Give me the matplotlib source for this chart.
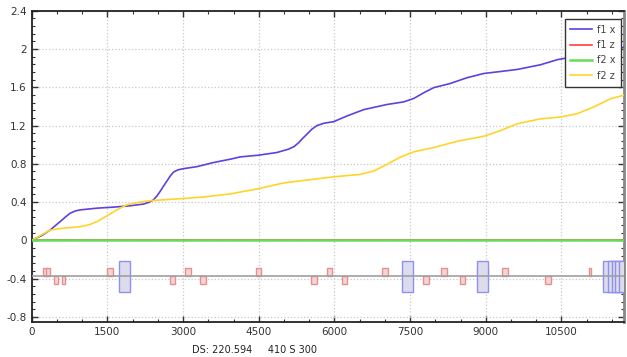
import matplotlib
matplotlib.use("Agg")
import matplotlib.pyplot as plt
from matplotlib.ticker import MultipleLocator, FixedLocator

# curves (x in samples, y value)
f1x_t = [0, 30, 200, 363, 460, 561, 660, 760, 860, 958, 1290, 1620, 1950, 2214,
         2330, 2413, 2480, 2546, 2610, 2678, 2745, 2810, 2900, 3008, 3274, 3603,
         3935, 4133, 4496, 4860, 5091, 5200, 5290, 5370, 5456, 5550, 5655, 5800,
         5984, 6250, 6580, 7044, 7373, 7572, 7780, 7969, 8300, 8631, 8962, 9300,
         9623, 10085, 10417, 10800, 11200, 11500, 11740]
f1x_v = [0.0, 0.01, 0.05, 0.107, 0.15, 0.195, 0.24, 0.283, 0.306, 0.318, 0.336,
         0.347, 0.361, 0.379, 0.398, 0.424, 0.462, 0.512, 0.565, 0.618, 0.672,
         0.713, 0.737, 0.749, 0.77, 0.813, 0.848, 0.872, 0.89, 0.918, 0.953, 0.98,
         1.02, 1.065, 1.11, 1.16, 1.2, 1.225, 1.24, 1.30, 1.366, 1.42, 1.447, 1.483,
         1.545, 1.596, 1.64, 1.70, 1.744, 1.765, 1.786, 1.835, 1.888, 1.925, 1.955,
         1.985, 2.02]
f2z_t = [0, 363, 627, 958, 1150, 1290, 1488, 1687, 1885, 2149, 2413, 2942, 3405,
         3935, 4496, 4992, 5655, 5984, 6514, 6779, 7044, 7308, 7572, 7969, 8432,
         8962, 9292, 9623, 10085, 10482, 10813, 11143, 11474, 11740]
f2z_v = [0.0, 0.107, 0.127, 0.142, 0.165, 0.195, 0.255, 0.318, 0.371, 0.4, 0.417,
         0.435, 0.453, 0.485, 0.54, 0.6, 0.643, 0.664, 0.689, 0.724, 0.795, 0.87,
         0.925, 0.97, 1.035, 1.088, 1.147, 1.218, 1.27, 1.289, 1.324, 1.395, 1.48,
         1.517]
flat_t = [0, 11740]
f1z_v = [0, 0]
f2x_v = [0, 0]

# event boxes
red_up_x = [270, 329, 1552, 3099, 4500, 5900, 7004, 8174, 8927, 9383, 11062]
red_up_w = [80, 80, 105, 105, 105, 105, 105, 105, 218, 105, 50]
red_lo_x = [482, 634, 2797, 3396, 5597, 6197, 7817, 8537, 10236]
red_lo_w = [66, 66, 105, 105, 105, 105, 105, 105, 105]
blue_x = [1840, 7456, 8927, 11441, 11529, 11609, 11679, 11749]
mid_level = -0.37

fig = plt.figure(figsize=(6.27, 3.57), dpi=100)
ax = fig.add_axes([0.0506, 0.099, 0.9446, 0.871])

ax.bar(red_up_x, 0.077, width=red_up_w, bottom=mid_level, color="#f4d4d4",
       edgecolor="#e89090", linewidth=1, zorder=2)
ax.bar(red_lo_x, 0.087, width=red_lo_w, bottom=-0.457, color="#f4d4d4",
       edgecolor="#e89090", linewidth=1, zorder=2)
ax.bar(blue_x, 0.322, width=218, bottom=-0.537, color="#dcdcec",
       edgecolor="#9090f0", linewidth=1, zorder=3)
ax.axhline(mid_level, color="#a0a0a0", lw=1.2, zorder=4)

ax.plot(f1x_t, f1x_v, color="#6040e0", lw=1.2, label="f1 x", zorder=5)
ax.plot(flat_t, f1z_v, color="#ff4040", lw=1.2, label="f1 z", zorder=5)
ax.plot(flat_t, f2x_v, color="#66dd55", lw=1.8, label="f2 x", zorder=6)
ax.plot(f2z_t, f2z_v, color="#ffd42a", lw=1.2, label="f2 z", zorder=5)

ax.set_xlim(0, 11740)
ax.set_ylim(-0.85, 2.4)
ax.xaxis.set_major_locator(MultipleLocator(1500))
ax.xaxis.set_minor_locator(MultipleLocator(500))
ax.yaxis.set_major_locator(FixedLocator([-0.8, -0.4, 0, 0.4, 0.8, 1.2, 1.6, 2, 2.4]))
ax.yaxis.set_minor_locator(MultipleLocator(0.08))
ax.yaxis.set_major_formatter(plt.FuncFormatter(lambda v, p: "%g" % round(v, 2)))
ax.tick_params(which="both", direction="in", top=True, right=True,
               labelsize=7.5, labelcolor="#333333", color="#333333")
ax.tick_params(which="major", length=4, width=1)
ax.tick_params(which="minor", length=2.5, width=0.8)
ax.grid(True, which="major", ls=":", color="#c8c8c8", lw=0.9)
for s in ax.spines.values():
    s.set_linewidth(1.3)
    s.set_color("#222222")
ax.spines["right"].set_color("#888888")
ax.spines["right"].set_linewidth(2)

leg = ax.legend(loc="upper right", fontsize=7, frameon=True, fancybox=False,
                framealpha=1, edgecolor="#333333", handlelength=2.2,
                handletextpad=0.5, borderpad=0.6, labelspacing=0.55,
                borderaxespad=0, bbox_to_anchor=(0.995, 0.974))
leg.get_frame().set_linewidth(1)
for t in leg.get_texts():
    t.set_color("#444444")

fig.text(0.306, 0.012, "DS: 220.594     410 S 300", fontsize=7, color="#222222")

fig.savefig("out.png", dpi=100)
